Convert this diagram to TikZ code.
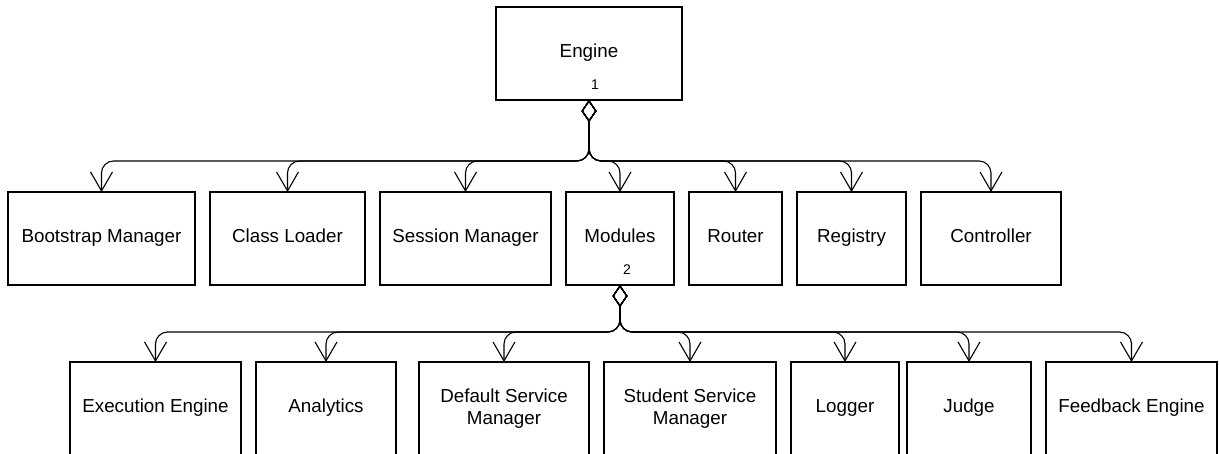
\documentclass[tikz,border=0pt]{standalone}
\usepackage{fontspec}
\setmainfont{Liberation Sans}
\usetikzlibrary{positioning,arrows.meta}
\tikzset{
cls/.style={draw, line width=1.1pt, outer sep=0pt, inner sep=2pt, minimum height=93pt, align=center, font=\fontsize{18.8}{22}\selectfont},
box/.style={cls, text height=14pt, text depth=5pt},
num/.style={inner sep=0pt, font=\fontsize{14}{16}\selectfont},
has/.style={line width=1.1pt, rounded corners=12pt, {Diamond[open,length=22pt,width=15pt]}-{Straight Barb[length=19pt,width=22pt]}},
}

\begin{document}
\begin{tikzpicture}[x=1pt,y=-1pt]
    \useasboundingbox (0,0) rectangle (1219,454);
    \node[box, minimum width=186pt] (engine) at (589,53.5) {Engine};
    \node[num] (one) at ([xshift=6pt,yshift=15pt]engine.south) {1};
    %first row
    \node[box, minimum width=187pt] (boot) at (101.5,238.5) {Bootstrap Manager};
    \node[box, minimum width=155pt] (loader) [right=15pt of boot] {Class Loader};
    \node[box, minimum width=171pt] (session) [right=15pt of loader] {Session Manager};
    \node[box, minimum width=108pt] (modules) [right=15pt of session] {Modules};
    \node[box, minimum width=93pt] (router) [right=15pt of modules] {Router};
    \node[box, minimum width=109pt] (registry) [right=15pt of router] {Registry};
    \node[box, minimum width=140pt] (controller) [right=15pt of registry] {Controller};
    \node[num] (two) at ([xshift=7pt,yshift=15pt]modules.south) {2};
    %second row
    \node[box, minimum width=171pt] (exec) at (155.5,408.5) {Execution Engine};
    \node[box, minimum width=140pt] (analytics) [right=15pt of exec] {Analytics};
    \node[cls, minimum width=170pt] (defsm) [right=23pt of analytics] {Default Service\\Manager};
    \node[cls, minimum width=172pt] (stusm) [right=15pt of defsm] {Student Service\\Manager};
    \node[box, minimum width=108pt] (logger) [right=15pt of stusm] {Logger};
    \node[box, minimum width=124pt] (judge) [right=8pt of logger] {Judge};
    \node[box, minimum width=171pt] (feedback) [right=15pt of judge] {Feedback Engine};
    %engine edges
    \draw[has] (engine.south) -- ++(0,61) -| (boot.north);
    \draw[has] (engine.south) -- ++(0,61) -| (loader.north);
    \draw[has] (engine.south) -- ++(0,61) -| (session.north);
    \draw[has] (engine.south) -- ++(0,61) -| (modules.north);
    \draw[has] (engine.south) -- ++(0,61) -| (router.north);
    \draw[has] (engine.south) -- ++(0,61) -| (registry.north);
    \draw[has] (engine.south) -- ++(0,61) -| (controller.north);
    %modules edges
    \draw[has] (modules.south) -- ++(0,47) -| (exec.north);
    \draw[has] (modules.south) -- ++(0,47) -| (analytics.north);
    \draw[has] (modules.south) -- ++(0,47) -| (defsm.north);
    \draw[has] (modules.south) -- ++(0,47) -| (stusm.north);
    \draw[has] (modules.south) -- ++(0,47) -| (logger.north);
    \draw[has] (modules.south) -- ++(0,47) -| (judge.north);
    \draw[has] (modules.south) -- ++(0,47) -| (feedback.north);
\end{tikzpicture}
\end{document}
